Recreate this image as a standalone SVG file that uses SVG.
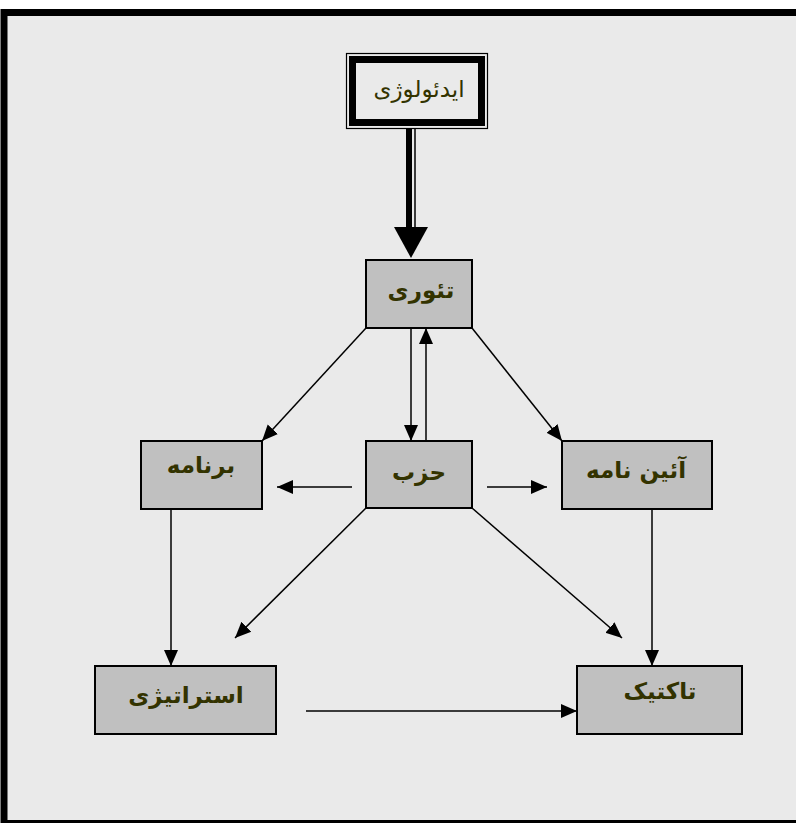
<svg xmlns="http://www.w3.org/2000/svg" width="796" height="823" viewBox="0 0 796 823">
<style>
.box{fill:#c0c0c0;stroke:#000;stroke-width:2}
.lbl{font-family:"DejaVu Sans","Noto Sans",sans-serif;font-size:23px;font-weight:bold;fill:#333300;text-anchor:middle}
.conn{stroke:#000;stroke-width:1.5;fill:none}
</style>
<defs>
<marker id="ah" markerUnits="userSpaceOnUse" markerWidth="16" markerHeight="16" viewBox="0 0 16 16" refX="16" refY="8" orient="auto">
<path d="M0,1 L16,8 L0,15 Z" fill="#000"/>
</marker>
</defs>
<rect x="0" y="0" width="796" height="823" fill="#fff"/>
<rect x="4" y="12.5" width="900" height="811" fill="#eaeaea" stroke="#000" stroke-width="7"/>

<g id="connectors">
<line x1="409" y1="129" x2="409" y2="228" stroke="#000" stroke-width="6"/>
<line x1="415" y1="129" x2="415" y2="228" stroke="#000" stroke-width="1.5"/>
<polygon points="394,227 428,227 411,258" fill="#000"/>
<line class="conn" x1="411" y1="328" x2="411" y2="441" marker-end="url(#ah)"/>
<line class="conn" x1="426" y1="441" x2="426" y2="328" marker-end="url(#ah)"/>
<line class="conn" x1="366" y1="328" x2="262" y2="441" marker-end="url(#ah)"/>
<line class="conn" x1="472" y1="328" x2="562" y2="441" marker-end="url(#ah)"/>
<line class="conn" x1="352" y1="487" x2="277" y2="487" marker-end="url(#ah)"/>
<line class="conn" x1="487" y1="487" x2="547" y2="487" marker-end="url(#ah)"/>
<line class="conn" x1="366" y1="508" x2="235" y2="638" marker-end="url(#ah)"/>
<line class="conn" x1="472" y1="508" x2="622" y2="638" marker-end="url(#ah)"/>
<line class="conn" x1="171" y1="509" x2="171" y2="666" marker-end="url(#ah)"/>
<line class="conn" x1="652" y1="509" x2="652" y2="666" marker-end="url(#ah)"/>
<line class="conn" x1="306" y1="711" x2="577" y2="711" marker-end="url(#ah)"/>
</g>

<g id="ideology">
<rect x="346.5" y="53.5" width="141" height="75" fill="none" stroke="#000" stroke-width="1.2"/>
<rect x="352.5" y="59.5" width="129" height="63" fill="#eaeaea" stroke="#000" stroke-width="7"/>
<text x="419" y="97" style="font-family:'DejaVu Sans','Noto Sans',sans-serif;font-size:23px;fill:#333300;text-anchor:middle">ایدئولوژی</text>
</g>

<g id="theory">
<rect class="box" x="366" y="260" width="106" height="68"/>
<text class="lbl" x="421" y="298">تئوری</text>
</g>

<g id="party">
<rect class="box" x="366" y="441" width="106" height="67"/>
<text class="lbl" x="419" y="480">حزب</text>
</g>

<g id="program">
<rect class="box" x="141" y="441" width="121" height="68"/>
<text class="lbl" x="201" y="473">برنامه</text>
</g>

<g id="bylaw">
<rect class="box" x="562" y="441" width="150" height="68"/>
<text class="lbl" x="636" y="478">آئین نامه</text>
</g>

<g id="strategy">
<rect class="box" x="95" y="666" width="181" height="68"/>
<text class="lbl" x="186" y="703">استراتیژی</text>
</g>

<g id="tactic">
<rect class="box" x="577" y="666" width="165" height="68"/>
<text class="lbl" x="660" y="699">تاکتیک</text>
</g>
</svg>
